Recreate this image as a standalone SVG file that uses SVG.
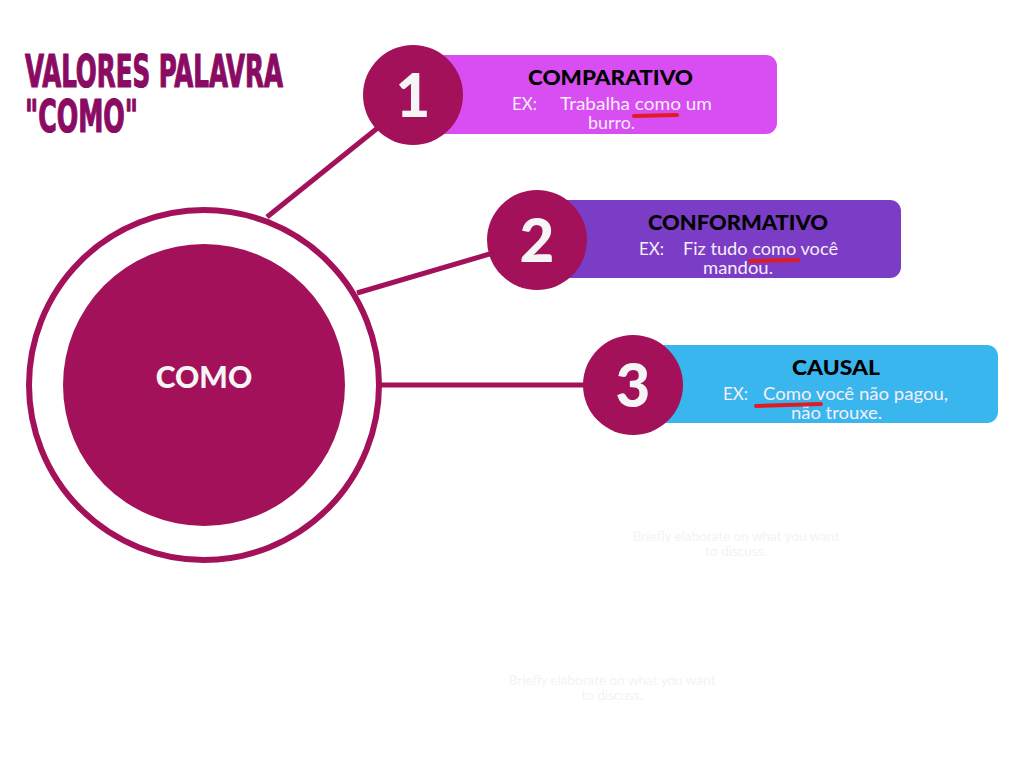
<svg xmlns="http://www.w3.org/2000/svg" width="1024" height="768" viewBox="0 0 1024 768">
<style>
.ring{fill:none;stroke:#A3115A;stroke-width:6}
.hub{fill:#A3115A}
.num{fill:#A3115A}
.numt{font-family:"Lato","Noto Sans",sans-serif;font-weight:900;font-size:60px;fill:#F5F5F5;text-anchor:middle}
.title{font-family:"Lato","Noto Sans",sans-serif;font-weight:900;font-size:20px;fill:#000}
.ex{font-family:"Lato","Noto Sans",sans-serif;font-size:17px;fill:#F6EEF8}
.ul{stroke:#E01B24;stroke-width:4;stroke-linecap:round;fill:none}
.conn line{stroke:#A3115A;stroke-width:5}
.faint{font-family:"Lato","Noto Sans",sans-serif;font-size:13.5px;fill:#F3F3F3;text-anchor:middle}
.head{font-family:"DejaVu Sans",sans-serif;font-stretch:condensed;font-weight:bold;font-size:44px;fill:#8A0B62;stroke:#8A0B62;stroke-width:1.2;stroke-linejoin:round}
</style>
<rect width="1024" height="768" fill="#FFFFFF"/>
<g id="title">
<text class="head" x="25" y="87" textLength="258" lengthAdjust="spacingAndGlyphs">VALORES PALAVRA</text>
<text class="head" x="25" y="132" textLength="113" lengthAdjust="spacingAndGlyphs">"COMO"</text>
</g>
<g id="connectors" class="conn">
<line x1="267" y1="217" x2="400" y2="110"/>
<line x1="357" y1="293" x2="510" y2="248"/>
<line x1="381" y1="385" x2="600" y2="385"/>
</g>
<g id="hub">
<circle class="ring" cx="204" cy="385" r="175"/>
<circle class="hub" cx="204" cy="385" r="141"/>
<text x="204" y="388" font-family="Lato,'Noto Sans',sans-serif" font-weight="900" font-size="30" fill="#F5F5F5" text-anchor="middle">COMO</text>
</g>
<g id="node1">
<rect x="420" y="55" width="357" height="79" rx="11" fill="#D84EF3"/>
<circle class="num" cx="413" cy="95" r="50"/>
<text class="numt" x="413" y="117">1</text>
<text class="title" x="528" y="85" textLength="165" lengthAdjust="spacingAndGlyphs">COMPARATIVO</text>
<text class="ex" x="512" y="110">EX:</text>
<text class="ex" x="560" y="110" textLength="152" lengthAdjust="spacingAndGlyphs">Trabalha como um</text>
<text class="ex" x="588" y="129" textLength="47" lengthAdjust="spacingAndGlyphs">burro.</text>
<line class="ul" x1="634" y1="116" x2="677" y2="115"/>
</g>
<g id="node2">
<rect x="545" y="200" width="356" height="78" rx="11" fill="#7B3CC6"/>
<circle class="num" cx="537" cy="240" r="50"/>
<text class="numt" x="537" y="262">2</text>
<text class="title" x="648" y="230" textLength="180" lengthAdjust="spacingAndGlyphs">CONFORMATIVO</text>
<text class="ex" x="639" y="255">EX:</text>
<text class="ex" x="683" y="255" textLength="155" lengthAdjust="spacingAndGlyphs">Fiz tudo como você</text>
<text class="ex" x="703" y="274" textLength="70" lengthAdjust="spacingAndGlyphs">mandou.</text>
<line class="ul" x1="750" y1="261" x2="798" y2="260"/>
</g>
<g id="node3">
<rect x="640" y="345" width="358" height="78" rx="11" fill="#3AB6EE"/>
<circle class="num" cx="633" cy="385" r="50"/>
<text class="numt" x="633" y="407">3</text>
<text class="title" x="792" y="375" textLength="88" lengthAdjust="spacingAndGlyphs">CAUSAL</text>
<text class="ex" x="723" y="400">EX:</text>
<text class="ex" x="763" y="400" textLength="185" lengthAdjust="spacingAndGlyphs">Como você não pagou,</text>
<text class="ex" x="791" y="419" textLength="91" lengthAdjust="spacingAndGlyphs">não trouxe.</text>
<line class="ul" x1="756" y1="406" x2="821" y2="404"/>
</g>
<g id="faint1">
<text class="faint" x="736" y="541">Briefly elaborate on what you want</text>
<text class="faint" x="736" y="556">to discuss.</text>
</g>
<g id="faint2">
<text class="faint" x="612" y="685">Briefly elaborate on what you want</text>
<text class="faint" x="612" y="700">to discuss.</text>
</g>
</svg>
